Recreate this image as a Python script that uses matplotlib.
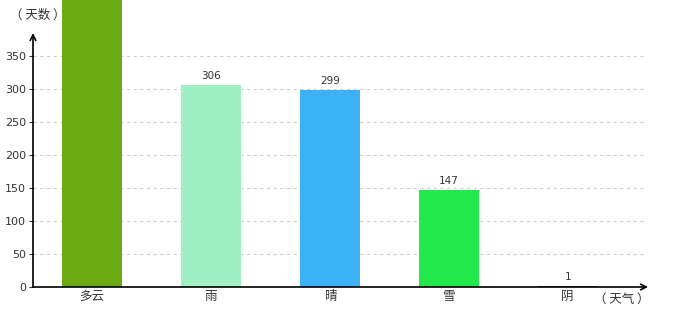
import matplotlib
matplotlib.use('Agg')
import matplotlib.pyplot as plt

plt.rcParams['font.family'] = ['DejaVu Sans', 'Noto Sans CJK SC']

weather = ['多云', '雨', '晴', '雪', '阴']
days = [460, 306, 299, 147, 1]
colors = ['#6aab14', '#a0efc3', '#3db1f6', '#22e84b', '#1e5f80']
yticks = [0, 50, 100, 150, 200, 250, 300, 350]

fig = plt.figure(figsize=(6.8, 3.2), dpi=100)
ax = fig.add_axes([33/680, 33/320, 612/680, 287/320])

x = list(range(len(weather)))
ax.bar(x, days, width=0.5, color=colors, zorder=3)

for i, v in enumerate(days):
    if v < 400:
        ax.annotate(str(v), (i, v), xytext=(0, 3), textcoords='offset points',
                    ha='center', va='bottom', fontsize=7.5, color='#333333')

ax.set_xlim(-0.496, 4.65)
ax.set_ylim(0, 435)
ax.set_yticks(yticks)
ax.set_xticks(x)
ax.set_xticklabels(weather, family=['Noto Sans CJK SC'], fontsize=9, color='#333333')
ax.tick_params(axis='y', labelsize=8, colors='#333333', length=3, pad=2)
ax.tick_params(axis='x', length=0, pad=2)

for y in yticks[1:]:
    ax.axhline(y, color='#d0d0d0', linestyle=(0, (3, 3)), linewidth=0.8, zorder=1)

for s in ax.spines.values():
    s.set_visible(False)

# axis arrows
ax.annotate('', xy=(1.005, 0), xytext=(0, 0), xycoords='axes fraction',
            arrowprops=dict(arrowstyle='->', color='black', lw=1.2, shrinkA=0, shrinkB=0),
            annotation_clip=False, zorder=5)
ax.annotate('', xy=(0, 385), xytext=(0, 0), xycoords=('axes fraction', 'data'),
            arrowprops=dict(arrowstyle='->', color='black', lw=1.2, shrinkA=0, shrinkB=0),
            annotation_clip=False, zorder=5)

fig.text(38/680, 1 - 15/320, '（ 天数 ）', family=['Noto Sans CJK SC'], fontsize=9,
         ha='center', va='center', color='#333333')
fig.text(622/680, 1 - 299/320, '（ 天气 ）', family=['Noto Sans CJK SC'], fontsize=9,
         ha='center', va='center', color='#333333')

fig.savefig('out.png', dpi=100)
